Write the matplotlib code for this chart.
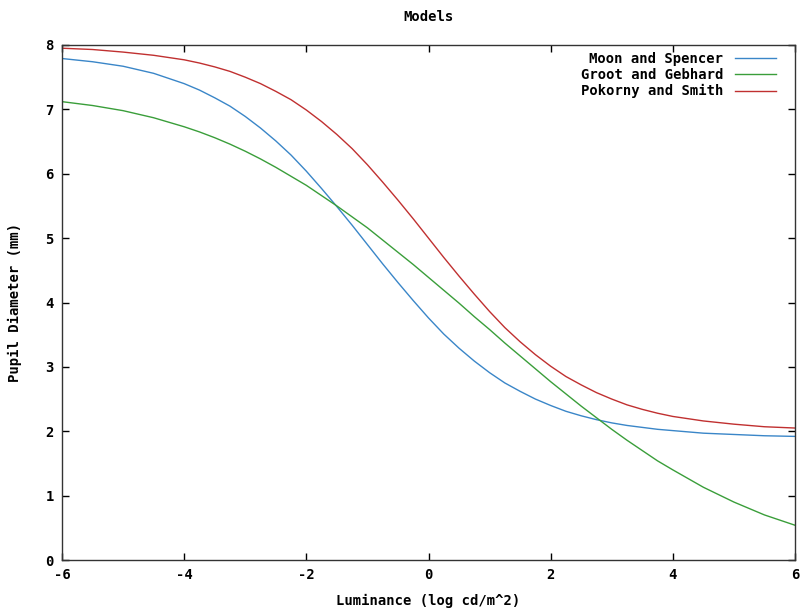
import matplotlib
matplotlib.use("Agg")
import matplotlib.pyplot as plt

x_vals = [-6.0, -5.5, -5.0, -4.5,
          -4.0, -3.75, -3.5, -3.25, -3.0, -2.75, -2.5, -2.25, -2.0, -1.75, -1.5, -1.25,
          -1.0, -0.75, -0.5, -0.25, 0.0, 0.25, 0.5, 0.75, 1.0, 1.25, 1.5, 1.75,
          2.0, 2.25, 2.5, 2.75, 3.0, 3.25, 3.5, 3.75, 4.0,
          4.5, 5.0, 5.5, 6.0]

moon_spencer = [7.79, 7.74, 7.67, 7.56,
                7.40, 7.30, 7.18, 7.05, 6.89, 6.71, 6.51, 6.29, 6.04, 5.77, 5.49, 5.20,
                4.90, 4.60, 4.31, 4.03, 3.76, 3.51, 3.29, 3.09, 2.91, 2.75, 2.62, 2.50,
                2.40, 2.31, 2.24, 2.18, 2.13, 2.09, 2.06, 2.03, 2.01,
                1.97, 1.95, 1.93, 1.92]
groot_gebhard = [7.12, 7.06, 6.98, 6.87,
                 6.73, 6.65, 6.56, 6.46, 6.35, 6.23, 6.10, 5.96, 5.82, 5.66, 5.50, 5.33,
                 5.16, 4.97, 4.78, 4.59, 4.39, 4.19, 3.99, 3.78, 3.58, 3.37, 3.17, 2.97,
                 2.77, 2.58, 2.39, 2.21, 2.03, 1.86, 1.70, 1.54, 1.40,
                 1.13, 0.90, 0.70, 0.54]
pokorny_smith = [7.95, 7.93, 7.89, 7.84,
                 7.77, 7.72, 7.66, 7.59, 7.50, 7.40, 7.28, 7.15, 6.99, 6.81, 6.61, 6.39,
                 6.14, 5.87, 5.59, 5.30, 5.00, 4.70, 4.41, 4.13, 3.86, 3.61, 3.39, 3.19,
                 3.01, 2.85, 2.72, 2.60, 2.50, 2.41, 2.34, 2.28, 2.23,
                 2.16, 2.11, 2.07, 2.05]

series_names = ["Moon and Spencer", "Groot and Gebhard", "Pokorny and Smith"]
series_colors = ["#3a86c8", "#3a9e3a", "#c03030"]

x_ticks = [-6, -4, -2, 0, 2, 4, 6]
y_ticks = [0, 1, 2, 3, 4, 5, 6, 7, 8]

plt.rcParams['font.family'] = ['DejaVu Sans Mono']
plt.rcParams['font.weight'] = 'bold'

fig = plt.figure(figsize=(8.01, 6.10), dpi=100)
ax = fig.add_axes([62/801, 1-560/610, (795-62)/801, (560-45)/610])

for ys, name, col in zip([moon_spencer, groot_gebhard, pokorny_smith], series_names, series_colors):
    ax.plot(x_vals, ys, color=col, lw=1.0, label=name)

ax.set_xlim(-6, 6)
ax.set_ylim(0, 8)
ax.set_xticks(x_ticks)
ax.set_yticks(y_ticks)
ax.set_xticklabels([str(t) for t in x_ticks], fontsize=10, fontweight='bold')
ax.set_yticklabels([str(t) for t in y_ticks], fontsize=10, fontweight='bold')
ax.tick_params(direction='in', length=5, width=1, top=True, right=True, pad=6, colors='black')
for s in ax.spines.values():
    s.set_linewidth(1.0)
    s.set_color('#333333')

ax.set_title("Models", fontsize=10, fontweight='bold', pad=17)
ax.set_xlabel("Luminance (log cd/m^2)", fontsize=10, fontweight='bold', labelpad=8)
ax.set_ylabel("Pupil Diameter (mm)", fontsize=10, fontweight='bold', labelpad=17)

leg = ax.legend(loc='upper right', frameon=False, markerfirst=False,
                handlelength=3.0, handletextpad=0.8, labelspacing=0.15,
                borderaxespad=0.0, bbox_to_anchor=(0.982, 0.997),
                prop={'weight': 'bold', 'size': 10})

fig.savefig("out.png", dpi=100, facecolor='white')
